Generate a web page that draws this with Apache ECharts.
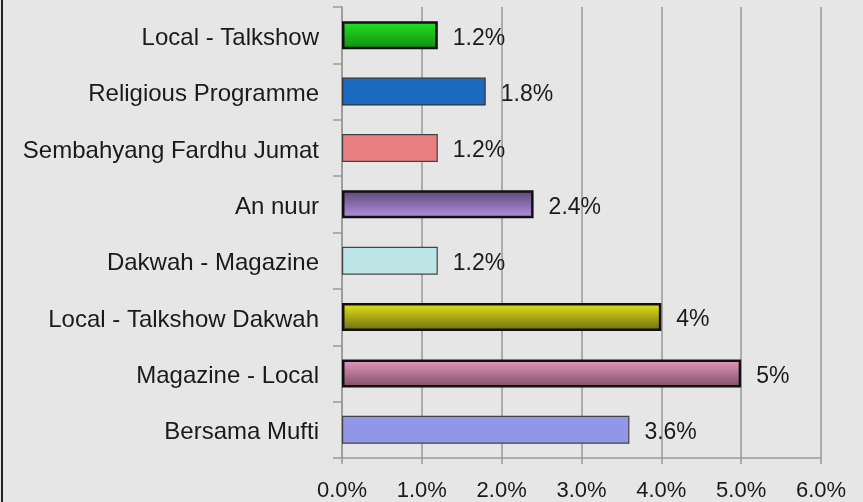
<!DOCTYPE html>
<html>
<head>
<meta charset="utf-8">
<script src="https://cdn.jsdelivr.net/npm/echarts@6/dist/echarts.min.js"></script>
<style>
  html, body { margin: 0; padding: 0; background: #e6e6e6; }
  #chart { width: 863px; height: 502px; }
</style>
</head>
<body>
<div id="chart"></div>
<script>
var categories = ['Local - Talkshow', 'Religious Programme', 'Sembahyang Fardhu Jumat', 'An nuur',
  'Dakwah - Magazine', 'Local - Talkshow Dakwah', 'Magazine - Local', 'Bersama Mufti']
var values = [1.2, 1.8, 1.2, 2.4, 1.2, 4, 5, 3.6]
var tickLabels = ['0.0%', '1.0%', '2.0%', '3.0%', '4.0%', '5.0%', '6.0%']

// bar look: [top colour, bottom colour, border colour, border width]
var looks = [
  ['#22e522', '#138a13', '#111', 2.5],
  ['#1a6bbf', '#1a6bbf', '#333', 1.2],
  ['#e88080', '#e88080', '#444', 1.2],
  ['#5a4878', '#b892e2', '#111', 2.5],
  ['#bfe6e6', '#bfe6e6', '#444', 1.2],
  ['#e6e61a', '#6b6b12', '#111', 2.5],
  ['#e898c2', '#7e4e66', '#111', 2.5],
  ['#9296e6', '#9296e6', '#444', 1.2]
]

var font = 'Liberation Sans, Arial, sans-serif'

var chart = echarts.init(document.getElementById('chart'))
chart.setOption({
  backgroundColor: '#e6e6e6',
  animation: false,
  graphic: [{
    type: 'rect',
    shape: { x: 1, y: 0, width: 2, height: 502 },
    style: { fill: '#222' }
  }],
  grid: { left: 342, right: 42, top: 7, bottom: 44 },
  xAxis: {
    type: 'value',
    min: 0,
    max: 6,
    interval: 1,
    axisLine: { show: true, lineStyle: { color: '#999', width: 1.5 } },
    axisTick: { show: true, length: 6, lineStyle: { color: '#999', width: 1.5 } },
    splitLine: { show: true, lineStyle: { color: '#999', width: 1.5 } },
    axisLabel: {
      margin: 22,
      color: '#1a1a1a',
      fontSize: 22,
      fontFamily: font,
      formatter: function (v) { return tickLabels[Math.round(v)] }
    }
  },
  yAxis: {
    type: 'category',
    inverse: true,
    data: categories,
    axisLine: { show: true, lineStyle: { color: '#999', width: 1.5 } },
    axisTick: { show: true, length: 9, lineStyle: { color: '#999', width: 1.5 } },
    axisLabel: {
      margin: 23,
      formatter: function (v) { return '{c|' + v + '}' },
      rich: {
        c: {
          color: '#1a1a1a',
          fontSize: 24,
          fontFamily: font,
          padding: [6, 0, 0, 0]
        }
      }
    }
  },
  series: [{
    type: 'bar',
    barWidth: 28,
    data: values.map(function (v, i) {
      var l = looks[i]
      return {
        value: v,
        itemStyle: {
          color: new echarts.graphic.LinearGradient(0, 0, 0, 1, [
            { offset: 0, color: l[0] },
            { offset: 1, color: l[1] }
          ]),
          borderColor: l[2],
          borderWidth: l[3]
        }
      }
    }),
    label: {
      show: true,
      position: 'right',
      distance: 15,
      offset: [0, 3],
      color: '#1a1a1a',
      fontSize: 23,
      fontFamily: font,
      formatter: function (p) { return p.value + '%' }
    }
  }]
})
</script>
</body>
</html>
